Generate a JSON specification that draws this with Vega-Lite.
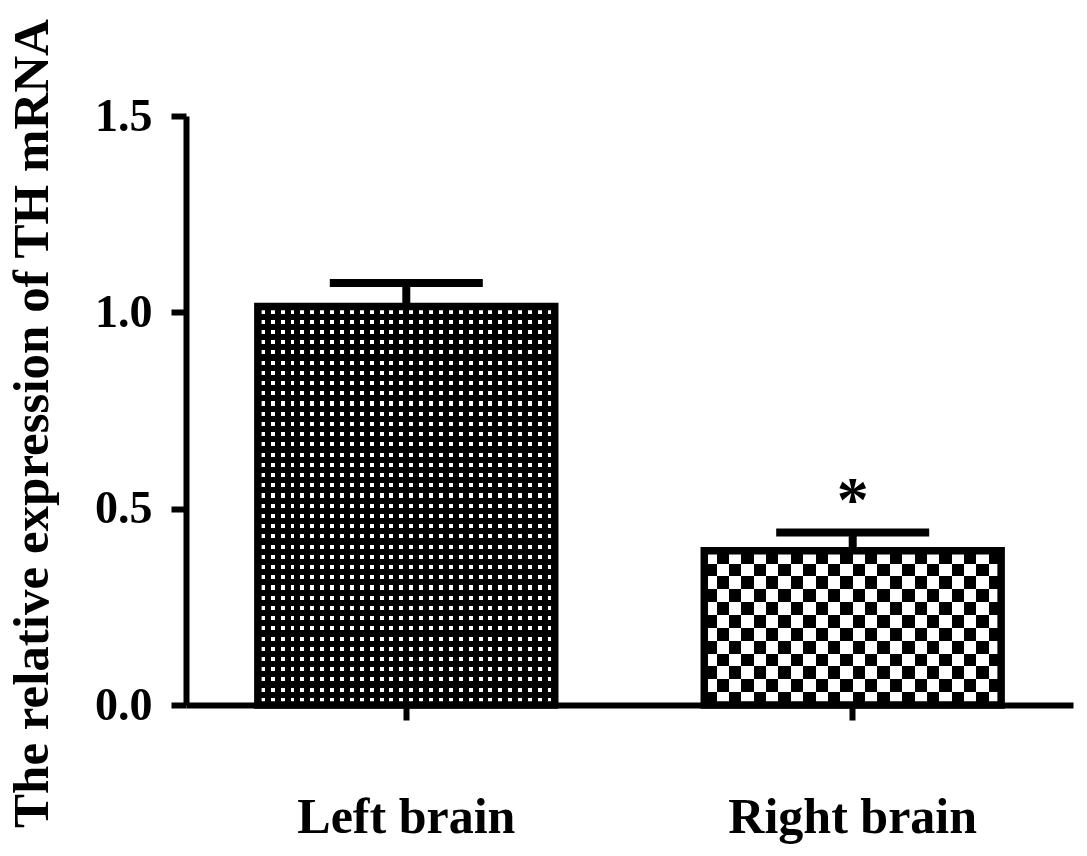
{
  "$schema": "https://vega.github.io/schema/vega-lite/v6.json",
  "width": 887,
  "height": 589,
  "autosize": {"type": "none"},
  "padding": {"left": 186, "top": 116, "right": 14, "bottom": 151},
  "background": "white",
  "config": {
    "view": {"stroke": null},
    "axis": {
      "labelFont": "Liberation Serif",
      "labelFontWeight": "bold",
      "labelColor": "#000",
      "labelLimit": 0,
      "titleFont": "Liberation Serif",
      "titleFontWeight": "bold",
      "titleColor": "#000",
      "domainColor": "#000",
      "domainWidth": 6,
      "tickColor": "#000",
      "tickWidth": 6,
      "tickSize": 15,
      "grid": false
    }
  },
  "data": {
    "values": [
      {"group": "Left brain", "value": 1.015, "upper": 1.075, "sig": ""},
      {"group": "Right brain", "value": 0.393, "upper": 0.439, "sig": "*"}
    ]
  },
  "encoding": {
    "x": {
      "field": "group",
      "type": "nominal",
      "sort": ["Left brain", "Right brain"],
      "scale": {"paddingInner": 0.335, "paddingOuter": 0.161},
      "axis": {
        "title": null,
        "labelAngle": 0,
        "labelFontSize": 50,
        "labelLimit": 0,
        "labelFont": "Liberation Serif",
        "labelBaseline": "alphabetic",
        "labelPadding": 112
      }
    },
    "y": {
      "field": "value",
      "type": "quantitative",
      "scale": {"domain": [0, 1.5], "nice": false, "zero": true},
      "axis": {
        "values": [0, 0.5, 1, 1.5],
        "format": ".1f",
        "labelFontSize": 46,
        "labelPadding": 19,
        "title": "The relative expression of TH mRNA",
        "titleFont": "Liberation Serif",
        "titleFontWeight": "bold",
        "titleFontSize": 51,
        "titleAngle": -90,
        "titleX": -139,
        "titleY": 307,
        "titleAlign": "center",
        "titleBaseline": "alphabetic"
      }
    }
  },
  "layer": [
    {
      "transform": [{"filter": "datum.group === 'Left brain'"}],
      "mark": {
        "type": "bar",
        "fill": {
          "gradient": "linear", "x1": 0, "y1": 0, "x2": 1, "y2": 0,
          "stops": [
            {"offset": 0, "color": "#000"},
            {"offset": 0.0100, "color": "#000"}, {"offset": 0.0100, "color": "#fff"}, {"offset": 0.0233, "color": "#fff"}, {"offset": 0.0233, "color": "#000"},
            {"offset": 0.0433, "color": "#000"}, {"offset": 0.0433, "color": "#fff"}, {"offset": 0.0567, "color": "#fff"}, {"offset": 0.0567, "color": "#000"},
            {"offset": 0.0767, "color": "#000"}, {"offset": 0.0767, "color": "#fff"}, {"offset": 0.0900, "color": "#fff"}, {"offset": 0.0900, "color": "#000"},
            {"offset": 0.1100, "color": "#000"}, {"offset": 0.1100, "color": "#fff"}, {"offset": 0.1233, "color": "#fff"}, {"offset": 0.1233, "color": "#000"},
            {"offset": 0.1433, "color": "#000"}, {"offset": 0.1433, "color": "#fff"}, {"offset": 0.1567, "color": "#fff"}, {"offset": 0.1567, "color": "#000"},
            {"offset": 0.1767, "color": "#000"}, {"offset": 0.1767, "color": "#fff"}, {"offset": 0.1900, "color": "#fff"}, {"offset": 0.1900, "color": "#000"},
            {"offset": 0.2100, "color": "#000"}, {"offset": 0.2100, "color": "#fff"}, {"offset": 0.2233, "color": "#fff"}, {"offset": 0.2233, "color": "#000"},
            {"offset": 0.2433, "color": "#000"}, {"offset": 0.2433, "color": "#fff"}, {"offset": 0.2567, "color": "#fff"}, {"offset": 0.2567, "color": "#000"},
            {"offset": 0.2767, "color": "#000"}, {"offset": 0.2767, "color": "#fff"}, {"offset": 0.2900, "color": "#fff"}, {"offset": 0.2900, "color": "#000"},
            {"offset": 0.3100, "color": "#000"}, {"offset": 0.3100, "color": "#fff"}, {"offset": 0.3233, "color": "#fff"}, {"offset": 0.3233, "color": "#000"},
            {"offset": 0.3433, "color": "#000"}, {"offset": 0.3433, "color": "#fff"}, {"offset": 0.3567, "color": "#fff"}, {"offset": 0.3567, "color": "#000"},
            {"offset": 0.3767, "color": "#000"}, {"offset": 0.3767, "color": "#fff"}, {"offset": 0.3900, "color": "#fff"}, {"offset": 0.3900, "color": "#000"},
            {"offset": 0.4100, "color": "#000"}, {"offset": 0.4100, "color": "#fff"}, {"offset": 0.4233, "color": "#fff"}, {"offset": 0.4233, "color": "#000"},
            {"offset": 0.4433, "color": "#000"}, {"offset": 0.4433, "color": "#fff"}, {"offset": 0.4567, "color": "#fff"}, {"offset": 0.4567, "color": "#000"},
            {"offset": 0.4767, "color": "#000"}, {"offset": 0.4767, "color": "#fff"}, {"offset": 0.4900, "color": "#fff"}, {"offset": 0.4900, "color": "#000"},
            {"offset": 0.5100, "color": "#000"}, {"offset": 0.5100, "color": "#fff"}, {"offset": 0.5233, "color": "#fff"}, {"offset": 0.5233, "color": "#000"},
            {"offset": 0.5433, "color": "#000"}, {"offset": 0.5433, "color": "#fff"}, {"offset": 0.5567, "color": "#fff"}, {"offset": 0.5567, "color": "#000"},
            {"offset": 0.5767, "color": "#000"}, {"offset": 0.5767, "color": "#fff"}, {"offset": 0.5900, "color": "#fff"}, {"offset": 0.5900, "color": "#000"},
            {"offset": 0.6100, "color": "#000"}, {"offset": 0.6100, "color": "#fff"}, {"offset": 0.6233, "color": "#fff"}, {"offset": 0.6233, "color": "#000"},
            {"offset": 0.6433, "color": "#000"}, {"offset": 0.6433, "color": "#fff"}, {"offset": 0.6567, "color": "#fff"}, {"offset": 0.6567, "color": "#000"},
            {"offset": 0.6767, "color": "#000"}, {"offset": 0.6767, "color": "#fff"}, {"offset": 0.6900, "color": "#fff"}, {"offset": 0.6900, "color": "#000"},
            {"offset": 0.7100, "color": "#000"}, {"offset": 0.7100, "color": "#fff"}, {"offset": 0.7233, "color": "#fff"}, {"offset": 0.7233, "color": "#000"},
            {"offset": 0.7433, "color": "#000"}, {"offset": 0.7433, "color": "#fff"}, {"offset": 0.7567, "color": "#fff"}, {"offset": 0.7567, "color": "#000"},
            {"offset": 0.7767, "color": "#000"}, {"offset": 0.7767, "color": "#fff"}, {"offset": 0.7900, "color": "#fff"}, {"offset": 0.7900, "color": "#000"},
            {"offset": 0.8100, "color": "#000"}, {"offset": 0.8100, "color": "#fff"}, {"offset": 0.8233, "color": "#fff"}, {"offset": 0.8233, "color": "#000"},
            {"offset": 0.8433, "color": "#000"}, {"offset": 0.8433, "color": "#fff"}, {"offset": 0.8567, "color": "#fff"}, {"offset": 0.8567, "color": "#000"},
            {"offset": 0.8767, "color": "#000"}, {"offset": 0.8767, "color": "#fff"}, {"offset": 0.8900, "color": "#fff"}, {"offset": 0.8900, "color": "#000"},
            {"offset": 0.9100, "color": "#000"}, {"offset": 0.9100, "color": "#fff"}, {"offset": 0.9233, "color": "#fff"}, {"offset": 0.9233, "color": "#000"},
            {"offset": 0.9433, "color": "#000"}, {"offset": 0.9433, "color": "#fff"}, {"offset": 0.9567, "color": "#fff"}, {"offset": 0.9567, "color": "#000"},
            {"offset": 0.9767, "color": "#000"}, {"offset": 0.9767, "color": "#fff"}, {"offset": 0.9900, "color": "#fff"}, {"offset": 0.9900, "color": "#000"},
            {"offset": 1, "color": "#000"}
          ]
        }
      }
    },
    {
      "transform": [{"filter": "datum.group === 'Left brain'"}],
      "mark": {
        "type": "bar",
        "fill": {
          "gradient": "linear", "x1": 0, "y1": 0, "x2": 0, "y2": 1,
          "stops": [
            {"offset": 0, "color": "#000"},
            {"offset": 0.0077, "color": "#000"}, {"offset": 0.0077, "color": "rgba(0,0,0,0)"}, {"offset": 0.0179, "color": "rgba(0,0,0,0)"}, {"offset": 0.0179, "color": "#000"},
            {"offset": 0.0333, "color": "#000"}, {"offset": 0.0333, "color": "rgba(0,0,0,0)"}, {"offset": 0.0436, "color": "rgba(0,0,0,0)"}, {"offset": 0.0436, "color": "#000"},
            {"offset": 0.0590, "color": "#000"}, {"offset": 0.0590, "color": "rgba(0,0,0,0)"}, {"offset": 0.0692, "color": "rgba(0,0,0,0)"}, {"offset": 0.0692, "color": "#000"},
            {"offset": 0.0846, "color": "#000"}, {"offset": 0.0846, "color": "rgba(0,0,0,0)"}, {"offset": 0.0949, "color": "rgba(0,0,0,0)"}, {"offset": 0.0949, "color": "#000"},
            {"offset": 0.1103, "color": "#000"}, {"offset": 0.1103, "color": "rgba(0,0,0,0)"}, {"offset": 0.1205, "color": "rgba(0,0,0,0)"}, {"offset": 0.1205, "color": "#000"},
            {"offset": 0.1359, "color": "#000"}, {"offset": 0.1359, "color": "rgba(0,0,0,0)"}, {"offset": 0.1462, "color": "rgba(0,0,0,0)"}, {"offset": 0.1462, "color": "#000"},
            {"offset": 0.1615, "color": "#000"}, {"offset": 0.1615, "color": "rgba(0,0,0,0)"}, {"offset": 0.1718, "color": "rgba(0,0,0,0)"}, {"offset": 0.1718, "color": "#000"},
            {"offset": 0.1872, "color": "#000"}, {"offset": 0.1872, "color": "rgba(0,0,0,0)"}, {"offset": 0.1974, "color": "rgba(0,0,0,0)"}, {"offset": 0.1974, "color": "#000"},
            {"offset": 0.2128, "color": "#000"}, {"offset": 0.2128, "color": "rgba(0,0,0,0)"}, {"offset": 0.2231, "color": "rgba(0,0,0,0)"}, {"offset": 0.2231, "color": "#000"},
            {"offset": 0.2385, "color": "#000"}, {"offset": 0.2385, "color": "rgba(0,0,0,0)"}, {"offset": 0.2487, "color": "rgba(0,0,0,0)"}, {"offset": 0.2487, "color": "#000"},
            {"offset": 0.2641, "color": "#000"}, {"offset": 0.2641, "color": "rgba(0,0,0,0)"}, {"offset": 0.2744, "color": "rgba(0,0,0,0)"}, {"offset": 0.2744, "color": "#000"},
            {"offset": 0.2897, "color": "#000"}, {"offset": 0.2897, "color": "rgba(0,0,0,0)"}, {"offset": 0.3000, "color": "rgba(0,0,0,0)"}, {"offset": 0.3000, "color": "#000"},
            {"offset": 0.3154, "color": "#000"}, {"offset": 0.3154, "color": "rgba(0,0,0,0)"}, {"offset": 0.3256, "color": "rgba(0,0,0,0)"}, {"offset": 0.3256, "color": "#000"},
            {"offset": 0.3410, "color": "#000"}, {"offset": 0.3410, "color": "rgba(0,0,0,0)"}, {"offset": 0.3513, "color": "rgba(0,0,0,0)"}, {"offset": 0.3513, "color": "#000"},
            {"offset": 0.3667, "color": "#000"}, {"offset": 0.3667, "color": "rgba(0,0,0,0)"}, {"offset": 0.3769, "color": "rgba(0,0,0,0)"}, {"offset": 0.3769, "color": "#000"},
            {"offset": 0.3923, "color": "#000"}, {"offset": 0.3923, "color": "rgba(0,0,0,0)"}, {"offset": 0.4026, "color": "rgba(0,0,0,0)"}, {"offset": 0.4026, "color": "#000"},
            {"offset": 0.4179, "color": "#000"}, {"offset": 0.4179, "color": "rgba(0,0,0,0)"}, {"offset": 0.4282, "color": "rgba(0,0,0,0)"}, {"offset": 0.4282, "color": "#000"},
            {"offset": 0.4436, "color": "#000"}, {"offset": 0.4436, "color": "rgba(0,0,0,0)"}, {"offset": 0.4538, "color": "rgba(0,0,0,0)"}, {"offset": 0.4538, "color": "#000"},
            {"offset": 0.4692, "color": "#000"}, {"offset": 0.4692, "color": "rgba(0,0,0,0)"}, {"offset": 0.4795, "color": "rgba(0,0,0,0)"}, {"offset": 0.4795, "color": "#000"},
            {"offset": 0.4949, "color": "#000"}, {"offset": 0.4949, "color": "rgba(0,0,0,0)"}, {"offset": 0.5051, "color": "rgba(0,0,0,0)"}, {"offset": 0.5051, "color": "#000"},
            {"offset": 0.5205, "color": "#000"}, {"offset": 0.5205, "color": "rgba(0,0,0,0)"}, {"offset": 0.5308, "color": "rgba(0,0,0,0)"}, {"offset": 0.5308, "color": "#000"},
            {"offset": 0.5462, "color": "#000"}, {"offset": 0.5462, "color": "rgba(0,0,0,0)"}, {"offset": 0.5564, "color": "rgba(0,0,0,0)"}, {"offset": 0.5564, "color": "#000"},
            {"offset": 0.5718, "color": "#000"}, {"offset": 0.5718, "color": "rgba(0,0,0,0)"}, {"offset": 0.5821, "color": "rgba(0,0,0,0)"}, {"offset": 0.5821, "color": "#000"},
            {"offset": 0.5974, "color": "#000"}, {"offset": 0.5974, "color": "rgba(0,0,0,0)"}, {"offset": 0.6077, "color": "rgba(0,0,0,0)"}, {"offset": 0.6077, "color": "#000"},
            {"offset": 0.6231, "color": "#000"}, {"offset": 0.6231, "color": "rgba(0,0,0,0)"}, {"offset": 0.6333, "color": "rgba(0,0,0,0)"}, {"offset": 0.6333, "color": "#000"},
            {"offset": 0.6487, "color": "#000"}, {"offset": 0.6487, "color": "rgba(0,0,0,0)"}, {"offset": 0.6590, "color": "rgba(0,0,0,0)"}, {"offset": 0.6590, "color": "#000"},
            {"offset": 0.6744, "color": "#000"}, {"offset": 0.6744, "color": "rgba(0,0,0,0)"}, {"offset": 0.6846, "color": "rgba(0,0,0,0)"}, {"offset": 0.6846, "color": "#000"},
            {"offset": 0.7000, "color": "#000"}, {"offset": 0.7000, "color": "rgba(0,0,0,0)"}, {"offset": 0.7103, "color": "rgba(0,0,0,0)"}, {"offset": 0.7103, "color": "#000"},
            {"offset": 0.7256, "color": "#000"}, {"offset": 0.7256, "color": "rgba(0,0,0,0)"}, {"offset": 0.7359, "color": "rgba(0,0,0,0)"}, {"offset": 0.7359, "color": "#000"},
            {"offset": 0.7513, "color": "#000"}, {"offset": 0.7513, "color": "rgba(0,0,0,0)"}, {"offset": 0.7615, "color": "rgba(0,0,0,0)"}, {"offset": 0.7615, "color": "#000"},
            {"offset": 0.7769, "color": "#000"}, {"offset": 0.7769, "color": "rgba(0,0,0,0)"}, {"offset": 0.7872, "color": "rgba(0,0,0,0)"}, {"offset": 0.7872, "color": "#000"},
            {"offset": 0.8026, "color": "#000"}, {"offset": 0.8026, "color": "rgba(0,0,0,0)"}, {"offset": 0.8128, "color": "rgba(0,0,0,0)"}, {"offset": 0.8128, "color": "#000"},
            {"offset": 0.8282, "color": "#000"}, {"offset": 0.8282, "color": "rgba(0,0,0,0)"}, {"offset": 0.8385, "color": "rgba(0,0,0,0)"}, {"offset": 0.8385, "color": "#000"},
            {"offset": 0.8538, "color": "#000"}, {"offset": 0.8538, "color": "rgba(0,0,0,0)"}, {"offset": 0.8641, "color": "rgba(0,0,0,0)"}, {"offset": 0.8641, "color": "#000"},
            {"offset": 0.8795, "color": "#000"}, {"offset": 0.8795, "color": "rgba(0,0,0,0)"}, {"offset": 0.8897, "color": "rgba(0,0,0,0)"}, {"offset": 0.8897, "color": "#000"},
            {"offset": 0.9051, "color": "#000"}, {"offset": 0.9051, "color": "rgba(0,0,0,0)"}, {"offset": 0.9154, "color": "rgba(0,0,0,0)"}, {"offset": 0.9154, "color": "#000"},
            {"offset": 0.9308, "color": "#000"}, {"offset": 0.9308, "color": "rgba(0,0,0,0)"}, {"offset": 0.9410, "color": "rgba(0,0,0,0)"}, {"offset": 0.9410, "color": "#000"},
            {"offset": 0.9564, "color": "#000"}, {"offset": 0.9564, "color": "rgba(0,0,0,0)"}, {"offset": 0.9667, "color": "rgba(0,0,0,0)"}, {"offset": 0.9667, "color": "#000"},
            {"offset": 0.9821, "color": "#000"}, {"offset": 0.9821, "color": "rgba(0,0,0,0)"}, {"offset": 0.9923, "color": "rgba(0,0,0,0)"}, {"offset": 0.9923, "color": "#000"},
            {"offset": 1, "color": "#000"}
          ]
        }
      }
    },
    {
      "transform": [{"filter": "datum.group === 'Right brain'"}],
      "mark": {
        "type": "bar",
        "fill": {
          "gradient": "linear", "x1": 0, "y1": 0, "x2": 1, "y2": 0,
          "stops": [
            {"offset": 0, "color": "#000"}, {"offset": 0.0417, "color": "#000"},
            {"offset": 0.0417, "color": "#fff"}, {"offset": 0.0833, "color": "#fff"},
            {"offset": 0.0833, "color": "#000"}, {"offset": 0.125, "color": "#000"},
            {"offset": 0.125, "color": "#fff"}, {"offset": 0.1667, "color": "#fff"},
            {"offset": 0.1667, "color": "#000"}, {"offset": 0.2083, "color": "#000"},
            {"offset": 0.2083, "color": "#fff"}, {"offset": 0.25, "color": "#fff"},
            {"offset": 0.25, "color": "#000"}, {"offset": 0.2917, "color": "#000"},
            {"offset": 0.2917, "color": "#fff"}, {"offset": 0.3333, "color": "#fff"},
            {"offset": 0.3333, "color": "#000"}, {"offset": 0.375, "color": "#000"},
            {"offset": 0.375, "color": "#fff"}, {"offset": 0.4167, "color": "#fff"},
            {"offset": 0.4167, "color": "#000"}, {"offset": 0.4583, "color": "#000"},
            {"offset": 0.4583, "color": "#fff"}, {"offset": 0.5, "color": "#fff"},
            {"offset": 0.5, "color": "#000"}, {"offset": 0.5417, "color": "#000"},
            {"offset": 0.5417, "color": "#fff"}, {"offset": 0.5833, "color": "#fff"},
            {"offset": 0.5833, "color": "#000"}, {"offset": 0.625, "color": "#000"},
            {"offset": 0.625, "color": "#fff"}, {"offset": 0.6667, "color": "#fff"},
            {"offset": 0.6667, "color": "#000"}, {"offset": 0.7083, "color": "#000"},
            {"offset": 0.7083, "color": "#fff"}, {"offset": 0.75, "color": "#fff"},
            {"offset": 0.75, "color": "#000"}, {"offset": 0.7917, "color": "#000"},
            {"offset": 0.7917, "color": "#fff"}, {"offset": 0.8333, "color": "#fff"},
            {"offset": 0.8333, "color": "#000"}, {"offset": 0.875, "color": "#000"},
            {"offset": 0.875, "color": "#fff"}, {"offset": 0.9167, "color": "#fff"},
            {"offset": 0.9167, "color": "#000"}, {"offset": 0.9583, "color": "#000"},
            {"offset": 0.9583, "color": "#fff"}, {"offset": 1, "color": "#fff"}
          ]
        }
      }
    },
    {
      "transform": [{"filter": "datum.group === 'Right brain'"}],
      "mark": {
        "type": "bar",
        "blend": "difference",
        "fill": {
          "gradient": "linear", "x1": 0, "y1": 0, "x2": 0, "y2": 1,
          "stops": [
            {"offset": 0, "color": "#fff"}, {"offset": 0.0833, "color": "#fff"},
            {"offset": 0.0833, "color": "rgba(255,255,255,0)"}, {"offset": 0.1667, "color": "rgba(255,255,255,0)"},
            {"offset": 0.1667, "color": "#fff"}, {"offset": 0.25, "color": "#fff"},
            {"offset": 0.25, "color": "rgba(255,255,255,0)"}, {"offset": 0.3333, "color": "rgba(255,255,255,0)"},
            {"offset": 0.3333, "color": "#fff"}, {"offset": 0.4167, "color": "#fff"},
            {"offset": 0.4167, "color": "rgba(255,255,255,0)"}, {"offset": 0.5, "color": "rgba(255,255,255,0)"},
            {"offset": 0.5, "color": "#fff"}, {"offset": 0.5833, "color": "#fff"},
            {"offset": 0.5833, "color": "rgba(255,255,255,0)"}, {"offset": 0.6667, "color": "rgba(255,255,255,0)"},
            {"offset": 0.6667, "color": "#fff"}, {"offset": 0.75, "color": "#fff"},
            {"offset": 0.75, "color": "rgba(255,255,255,0)"}, {"offset": 0.8333, "color": "rgba(255,255,255,0)"},
            {"offset": 0.8333, "color": "#fff"}, {"offset": 0.9167, "color": "#fff"},
            {"offset": 0.9167, "color": "rgba(255,255,255,0)"}, {"offset": 1, "color": "rgba(255,255,255,0)"}
          ]
        }
      }
    },
    {
      "mark": {"type": "bar", "fill": "transparent", "stroke": "#000", "strokeWidth": 7.5}
    },
    {
      "mark": {"type": "rule", "color": "#000", "strokeWidth": 8},
      "encoding": {
        "y2": {"field": "upper"}
      }
    },
    {
      "mark": {"type": "tick", "color": "#000", "opacity": 1, "size": 153, "thickness": 8},
      "encoding": {
        "y": {"field": "upper", "type": "quantitative"}
      }
    },
    {
      "mark": {
        "type": "text",
        "font": "Liberation Serif",
        "fontWeight": "bold",
        "fontSize": 64,
        "color": "#000",
        "align": "center",
        "baseline": "alphabetic",
        "dy": -12
      },
      "encoding": {
        "y": {"field": "upper", "type": "quantitative"},
        "text": {"field": "sig"}
      }
    }
  ]
}
